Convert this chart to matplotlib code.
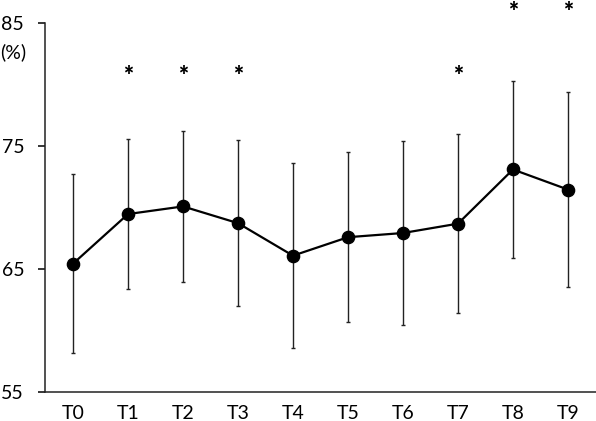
import matplotlib
matplotlib.use("Agg")
import matplotlib.pyplot as plt

labels = ["T0", "T1", "T2", "T3", "T4", "T5", "T6", "T7", "T8", "T9"]
means = [65.45, 69.48, 70.1, 68.74, 66.1, 67.6, 67.94, 68.7, 73.1, 71.47]
sds = [7.25, 6.1, 6.1, 6.77, 7.5, 6.9, 7.44, 7.25, 7.2, 7.93]
star_idx = [1, 2, 3, 7, 8, 9]
star_top = [81.55, 81.55, 81.55, 81.55, 86.8, 86.8]
yticks = [55, 65, 75, 85]

plt.rcParams['font.family'] = ['Lato', 'DejaVu Sans']

fig = plt.figure(figsize=(5.96, 4.21), dpi=100)
ax = fig.add_axes([45/596, 1 - 392.3/421, 1 - 45/596, (392.3 - 23)/421])

x = list(range(len(labels)))
ax.errorbar(x, means, yerr=sds, fmt='none', ecolor='#222222', elinewidth=1.0,
            capsize=1.6, capthick=1.0, zorder=2)
ax.plot(x, means, color='black', linewidth=1.6, marker='o', markersize=8.8,
        markerfacecolor='black', markeredgecolor='black', zorder=3)

for i, yv in zip(star_idx, star_top):
    ax.text(x[i], yv, '*', ha='center', va='top', fontsize=17,
            fontweight='heavy', clip_on=False)

ax.set_xlim(-0.51, 9.51)
ax.set_ylim(55, 85)
ax.set_yticks(yticks)
ax.set_yticklabels([str(v) for v in yticks], fontsize=14)
ax.set_xticks(x)
ax.set_xticklabels(labels, fontsize=14)
ax.tick_params(axis='x', length=0, pad=9)
ax.tick_params(axis='y', length=5, width=1.1, direction='out', pad=10)

for s in ['top', 'right']:
    ax.spines[s].set_visible(False)
for s in ['left', 'bottom']:
    ax.spines[s].set_linewidth(1.1)
    ax.spines[s].set_color('#222222')

fig.text(0.0, 1 - 52/421, '(%)', ha='left', va='center', fontsize=14)

fig.savefig('out.png', dpi=100)
